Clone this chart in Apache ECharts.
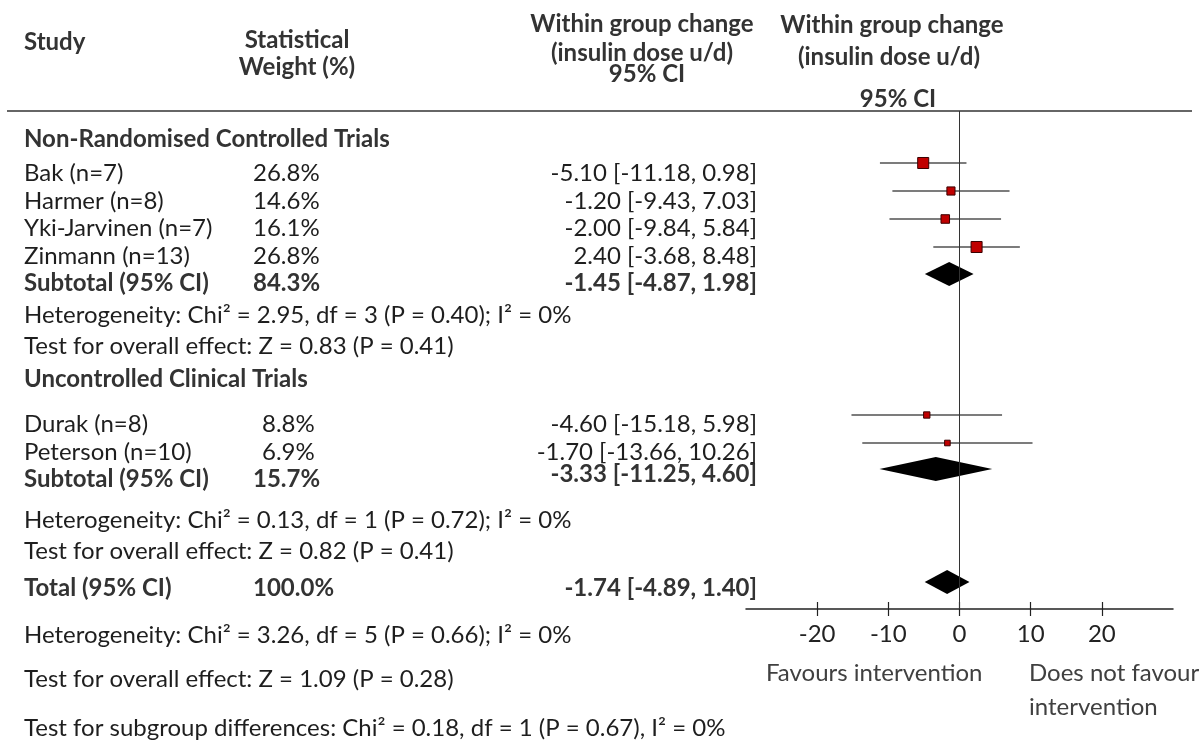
<!DOCTYPE html>
<html><head><meta charset="utf-8">
<script src="https://cdn.jsdelivr.net/npm/echarts@6/dist/echarts.min.js"></script>
<style>html,body{margin:0;padding:0;background:#fff}#c{width:1202px;height:740px}</style>
</head><body><div id="c"></div>
<script>
// ---------------- DATA ----------------
const groups = ['Non-Randomised Controlled Trials', 'Uncontrolled Clinical Trials'];
const studies = ['Bak (n=7)', 'Harmer (n=8)', 'Yki-Jarvinen (n=7)', 'Zinmann (n=13)', 'Durak (n=8)', 'Peterson (n=10)'];
const studyGroup = [0, 0, 0, 0, 1, 1];
const weights = [26.8, 14.6, 16.1, 26.8, 8.8, 6.9];
const means = [-5.10, -1.20, -2.00, 2.40, -4.60, -1.70];
const lowers = [-11.18, -9.43, -9.84, -3.68, -15.18, -13.66];
const uppers = [0.98, 7.03, 5.84, 8.48, 5.98, 10.26];
const subtotalWeights = [84.3, 15.7];
const subtotalMeans = [-1.45, -3.33];
const subtotalLowers = [-4.87, -11.25];
const subtotalUppers = [1.98, 4.60];
const heterogeneity = ['Heterogeneity: Chi\u00b2 = 2.95, df = 3 (P = 0.40); I\u00b2 = 0%', 'Heterogeneity: Chi\u00b2 = 0.13, df = 1 (P = 0.72); I\u00b2 = 0%'];
const overallEffect = ['Test for overall effect: Z = 0.83 (P = 0.41)', 'Test for overall effect: Z = 0.82 (P = 0.41)'];
const totalWeight = 100.0;
const totalMean = -1.74, totalLower = -4.89, totalUpper = 1.40;
const footnotes = ['Heterogeneity: Chi\u00b2 = 3.26, df = 5 (P = 0.66); I\u00b2 = 0%', 'Test for overall effect: Z = 1.09 (P = 0.28)', 'Test for subgroup differences: Chi\u00b2 = 0.18, df = 1 (P = 0.67), I\u00b2 = 0%'];
const xTicks = [-20, -10, 0, 10, 20];
const xRange = [-30, 30];
const headerStudy = 'Study';
const headerWeight = ['Statistical', 'Weight (%)'];
const headerCI = ['Within group change', '(insulin dose u/d)', '95% CI'];
const favourLeft = 'Favours intervention';
const favourRight = ['Does not favour', 'intervention'];

// ---------------- LAYOUT ----------------
const FONT = 'Lato, "Open Sans", sans-serif';
const FS = 24;
const L = {
  rule: 111, axisY: 609,
  groupHeadY: [139, 379],
  studyMarkY: [163, 191, 219, 247, 415, 443],
  studyTextY: [173, 201, 228, 256, 424, 452],
  subtotalMarkY: [274, 469],
  subtotalTextY: [283, 479],
  hetY: [315, 520], effectY: [346, 551],
  totalMarkY: 582, totalTextY: 588,
  footY: [635, 679, 728],
  colStudy: 24, colWeight: [253, 262], colWeightBold: 253, colCI: 757,
  diamondHalf: 12
};
const BODY = '#1e1e1e', BOLD = '#333';
const fmtCI = (m, l, u) => m.toFixed(2) + ' [' + l.toFixed(2) + ', ' + u.toFixed(2) + ']';

const cells = [];
function cell(x, y, text, o) { cells.push(Object.assign({x, y, text, align: 'left', bold: false, size: FS, color: BODY}, o || {})); }

// headers
const H = {bold: true, color: BOLD};
cell(L.colStudy, 42, headerStudy, H);
cell(297, 40, headerWeight[0], Object.assign({align: 'center'}, H));
cell(297, 67, headerWeight[1], Object.assign({align: 'center'}, H));
cell(642, 24, headerCI[0], Object.assign({align: 'center'}, H));
cell(642, 53, headerCI[1], Object.assign({align: 'center'}, H));
cell(647, 74, headerCI[2], Object.assign({align: 'center'}, H));
cell(892, 25, headerCI[0], Object.assign({align: 'center'}, H));
cell(889, 57, headerCI[1], Object.assign({align: 'center'}, H));
cell(898, 99, headerCI[2], Object.assign({align: 'center'}, H));

groups.forEach((g, gi) => {
  cell(L.colStudy, L.groupHeadY[gi], g, H);
  cell(L.colStudy, L.subtotalTextY[gi], 'Subtotal (95% CI)', H);
  cell(L.colWeightBold, L.subtotalTextY[gi], subtotalWeights[gi].toFixed(1) + '%', H);
  cell(L.colCI, L.subtotalTextY[gi] - (gi === 1 ? 5 : 0), fmtCI(subtotalMeans[gi], subtotalLowers[gi], subtotalUppers[gi]), Object.assign({align: 'right'}, H));
  cell(L.colStudy, L.hetY[gi], heterogeneity[gi]);
  cell(L.colStudy, L.effectY[gi], overallEffect[gi]);
});
studies.forEach((s, i) => {
  const y = L.studyTextY[i];
  cell(L.colStudy, y, s);
  cell(L.colWeight[studyGroup[i]], y, weights[i].toFixed(1) + '%');
  cell(L.colCI, y, fmtCI(means[i], lowers[i], uppers[i]), {align: 'right'});
});
cell(L.colStudy, L.totalTextY, 'Total (95% CI)', H);
cell(L.colWeightBold, L.totalTextY, totalWeight.toFixed(1) + '%', H);
cell(L.colCI, L.totalTextY, fmtCI(totalMean, totalLower, totalUpper), Object.assign({align: 'right'}, H));
footnotes.forEach((f, i) => cell(L.colStudy, L.footY[i], f));
cell(766, 673, favourLeft, {color: '#404040'});
cell(1029, 673, favourRight[0], {color: '#404040'});
cell(1029, 707, favourRight[1], {color: '#404040'});

const chart = echarts.init(document.getElementById('c'));
chart.setOption({
  animation: false,
  backgroundColor: '#fff',
  grid: [
    {left: 746, top: L.rule, width: 427, height: L.axisY - L.rule},
    {left: 0, top: 0, width: 1202, height: 740}
  ],
  xAxis: [
    {gridIndex: 0, type: 'value', min: xRange[0], max: xRange[1], interval: 10, position: 'bottom',
     axisLine: {show: true, lineStyle: {color: '#222', width: 1.5}},
     axisTick: {show: true, inside: true, length: 7, customValues: xTicks, lineStyle: {color: '#222', width: 1.2}},
     axisLabel: {show: true, customValues: xTicks, fontSize: FS, color: '#222', fontFamily: FONT, margin: 13},
     splitLine: {show: false}},
    {gridIndex: 0, type: 'value', min: xRange[0], max: xRange[1], interval: 10, position: 'bottom',
     axisLine: {show: false},
     axisTick: {show: true, inside: false, length: 7, customValues: xTicks, lineStyle: {color: '#222', width: 1.2}},
     axisLabel: {show: false}, splitLine: {show: false}},
    {gridIndex: 1, type: 'value', min: 0, max: 1202, show: false}
  ],
  yAxis: [
    {gridIndex: 0, type: 'value', min: L.rule, max: L.axisY, inverse: true, show: false},
    {gridIndex: 1, type: 'value', min: 0, max: 740, inverse: true, show: false}
  ],
  series: [
    {type: 'line', xAxisIndex: 2, yAxisIndex: 1, data: [[7, L.rule], [1192, L.rule]], symbol: 'none',
     lineStyle: {color: '#333', width: 1.5}, silent: true},
    {type: 'line', xAxisIndex: 0, yAxisIndex: 0, data: [[0, L.rule], [0, L.axisY]], symbol: 'none',
     lineStyle: {color: '#333', width: 1}, silent: true},
    {type: 'custom', xAxisIndex: 0, yAxisIndex: 0, clip: false, z: 3,
     data: studies.map((s, i) => [means[i], lowers[i], uppers[i], L.studyMarkY[i], weights[i]]),
     encode: {x: [0, 1, 2], y: 3},
     renderItem(params, api) {
       const m = api.value(0), lo = api.value(1), hi = api.value(2), y = api.value(3), w = api.value(4);
       const a = api.coord([lo, y]), b = api.coord([hi, y]), c = api.coord([m, y]);
       const s = 2.13 * Math.sqrt(w);
       return {type: 'group', children: [
         {type: 'line', shape: {x1: a[0], y1: a[1], x2: b[0], y2: b[1]}, style: {stroke: '#505050', lineWidth: 1.7}},
         {type: 'rect', shape: {x: c[0] - s / 2, y: c[1] - s / 2, width: s, height: s}, style: {fill: '#c00000', stroke: '#3a0000', lineWidth: 1}}
       ]};
     }},
    {type: 'custom', xAxisIndex: 0, yAxisIndex: 0, clip: false, z: 3,
     data: [[subtotalMeans[0], subtotalLowers[0], subtotalUppers[0], L.subtotalMarkY[0]],
            [subtotalMeans[1], subtotalLowers[1], subtotalUppers[1], L.subtotalMarkY[1]],
            [totalMean, totalLower, totalUpper, L.totalMarkY]],
     encode: {x: [0, 1, 2], y: 3},
     renderItem(params, api) {
       const m = api.value(0), lo = api.value(1), hi = api.value(2), y = api.value(3);
       const a = api.coord([lo, y]), b = api.coord([hi, y]), c = api.coord([m, y]);
       const h = L.diamondHalf;
       return {type: 'polygon', shape: {points: [[a[0], a[1]], [c[0], c[1] - h], [b[0], b[1]], [c[0], c[1] + h]]}, style: {fill: '#000'}};
     }},
    {type: 'custom', xAxisIndex: 2, yAxisIndex: 1, clip: false, z: 5, silent: true,
     data: cells.map(c => [c.x, c.y]),
     encode: {x: 0, y: 1},
     renderItem(params, api) {
       const d = cells[params.dataIndex];
       const p = api.coord([d.x, d.y]);
       return {type: 'text', x: p[0], y: p[1], style: {text: d.text, fontSize: d.size, fontFamily: FONT,
         fontWeight: d.bold ? 'bold' : 'normal', fill: d.color, align: d.align, verticalAlign: 'middle'}};
     }}
  ]
});
</script></body></html>
